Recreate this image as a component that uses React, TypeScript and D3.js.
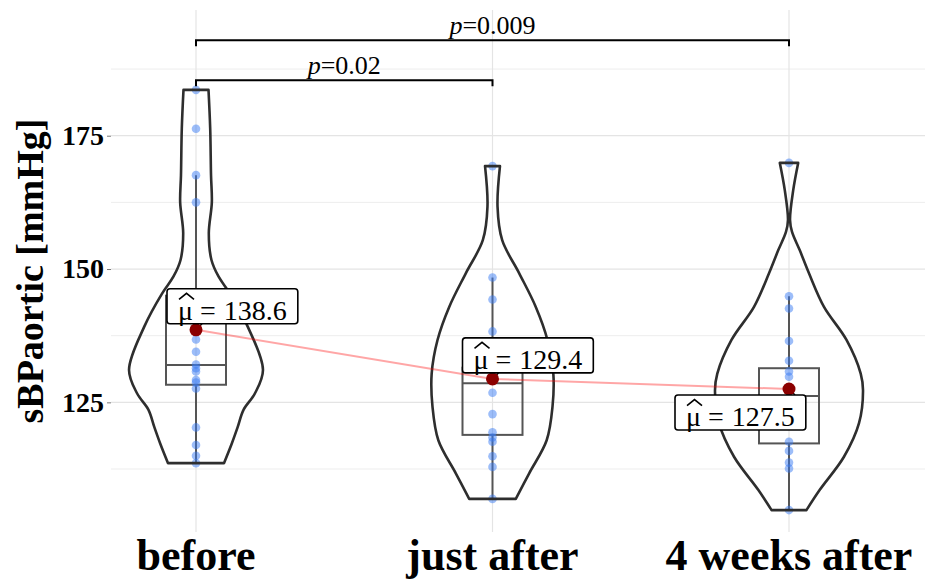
import { useEffect, useRef } from "react";
import * as d3 from "d3";

const GROUPS = ["before", "just after", "4 weeks after"];

// single subjects, sBP aortic (mmHg)
const POINTS_BEFORE = [183.6, 176.3, 167.6, 162.5, 136.8, 134.5, 132.1, 131.4, 130.8, 129.2, 128.7, 127.6, 120.3, 117.0, 115.0, 113.6];
const POINTS_JUST_AFTER = [169.3, 148.4, 144.3, 138.3, 126.8, 122.8, 119.4, 118.4, 117.6, 114.9, 112.9, 106.9];
const POINTS_4W_AFTER = [169.9, 144.9, 142.6, 136.5, 132.8, 130.8, 129.8, 117.6, 115.9, 113.7, 112.6, 104.8];

const MEANS = [138.6, 129.4, 127.5];
const Q1 = [128.3, 118.9, 117.3];
const MEDIAN = [132.0, 128.6, 126.2];
const Q3 = [145.0, 131.5, 131.4];
const WHISKER_LO = [113.6, 106.9, 104.8];
const WHISKER_HI = [167.6, 148.4, 144.9];

// violin outline: [sBP, relative density]
const VIOLIN_BEFORE: [number, number][] = [
  [183.6, 0.169], [176.3, 0.192], [167.6, 0.203], [162.5, 0.214], [156.7, 0.173], [151.7, 0.209],
  [148.6, 0.304], [145.4, 0.459], [139.2, 0.699], [131.1, 0.905], [126.7, 0.797], [123.6, 0.642],
  [120.4, 0.564], [117.3, 0.484], [113.6, 0.378],
];
const VIOLIN_JUST_AFTER: [number, number][] = [
  [169.3, 0.101], [161.7, 0.068], [155.4, 0.131], [149.2, 0.361], [142.9, 0.585], [136.7, 0.743],
  [130.4, 0.822], [124.2, 0.811], [117.9, 0.732], [111.7, 0.496], [106.9, 0.315],
];
const VIOLIN_4W_AFTER: [number, number][] = [
  [169.9, 0.124], [164.8, 0.057], [159.2, 0.014], [157.0, 0.04], [153.5, 0.146], [149.2, 0.27],
  [142.9, 0.473], [136.7, 0.777], [130.4, 0.969], [127.3, 1.0], [121.1, 0.946], [114.8, 0.743],
  [108.6, 0.416], [104.8, 0.236],
];

const Y_TICKS = [125, 150, 175];
const Y_MINOR = [112.5, 137.5, 162.5, 187.5];

const P_PAIRS: [number, number][] = [[0, 1], [0, 2]];
const P_VALUES = ["0.02", "0.009"];
const P_LEVELS = [185.4, 192.9];

const FONT = "'Liberation Serif', 'Times New Roman', serif";

export default function App() {
  const svgRef = useRef<SVGSVGElement>(null);

  useEffect(() => {
    if (!svgRef.current) return;
    const W = 925, H = 579;
    const panel = { left: 111, right: 925, top: 10, bottom: 532 };

    const svg = d3.select(svgRef.current);
    svg.selectAll("*").remove();
    svg.attr("width", W).attr("height", H);

    const x = d3.scalePoint<string>().domain(GROUPS).range([196, 789]);
    const y = d3.scaleLinear().domain([100.69, 198.57]).range([panel.bottom, panel.top]);
    const dens = d3.scaleLinear().domain([0, 1]).range([0, 74]);
    const boxHalf = 30;

    const points = [POINTS_BEFORE, POINTS_JUST_AFTER, POINTS_4W_AFTER];
    const violins = [VIOLIN_BEFORE, VIOLIN_JUST_AFTER, VIOLIN_4W_AFTER];

    // grid
    const grid = svg.append("g");
    Y_MINOR.forEach((v) => {
      grid.append("line").attr("x1", panel.left).attr("x2", panel.right)
        .attr("y1", y(v)).attr("y2", y(v)).attr("stroke", "#ededed").attr("stroke-width", 1);
    });
    Y_TICKS.forEach((v) => {
      grid.append("line").attr("x1", panel.left).attr("x2", panel.right)
        .attr("y1", y(v)).attr("y2", y(v)).attr("stroke", "#e4e4e4").attr("stroke-width", 1.2);
    });
    GROUPS.forEach((gName) => {
      grid.append("line").attr("x1", x(gName)!).attr("x2", x(gName)!)
        .attr("y1", panel.top).attr("y2", panel.bottom).attr("stroke", "#e4e4e4").attr("stroke-width", 1.2);
    });

    GROUPS.forEach((gName, i) => {
      const cx = x(gName)!;
      const g = svg.append("g");

      // box + whiskers
      g.append("line").attr("x1", cx).attr("x2", cx)
        .attr("y1", y(Q3[i])).attr("y2", y(WHISKER_HI[i]))
        .attr("stroke", "#555").attr("stroke-width", 2);
      g.append("line").attr("x1", cx).attr("x2", cx)
        .attr("y1", y(Q1[i])).attr("y2", y(WHISKER_LO[i]))
        .attr("stroke", "#555").attr("stroke-width", 2);
      g.append("rect")
        .attr("x", cx - boxHalf).attr("width", boxHalf * 2)
        .attr("y", y(Q3[i])).attr("height", y(Q1[i]) - y(Q3[i]))
        .attr("fill", "none").attr("stroke", "#555").attr("stroke-width", 2);
      g.append("line").attr("x1", cx - boxHalf).attr("x2", cx + boxHalf)
        .attr("y1", y(MEDIAN[i])).attr("y2", y(MEDIAN[i]))
        .attr("stroke", "#555").attr("stroke-width", 2);

      // dots
      g.selectAll("circle.pt").data(points[i]).join("circle")
        .attr("class", "pt")
        .attr("cx", cx).attr("cy", (d) => y(d)).attr("r", 4.3)
        .attr("fill", "#3a7cf3").attr("fill-opacity", 0.5);

      // violin
      const area = d3.area<[number, number]>()
        .y((d) => y(d[0]))
        .x0((d) => cx - dens(d[1]))
        .x1((d) => cx + dens(d[1]))
        .curve(d3.curveCatmullRom.alpha(0.5));
      g.append("path").datum(violins[i]).attr("d", area)
        .attr("fill", "none").attr("stroke", "#2e2e2e").attr("stroke-width", 2.6)
        .attr("stroke-linejoin", "round");
    });

    // mean path
    const meanLine = d3.line<number>().x((_, i) => x(GROUPS[i])!).y((d) => y(d));
    svg.append("path").datum(MEANS).attr("d", meanLine)
      .attr("fill", "none").attr("stroke", "#ff0000").attr("stroke-opacity", 0.35).attr("stroke-width", 2);

    // mean labels (repelled positions)
    const nudge = [{ dx: -29, dy: -41 }, { dx: -30, dy: -41 }, { dx: -114, dy: 6 }];
    const labelH = 35;
    const pad = 11;
    MEANS.forEach((mv, i) => {
      const mx = x(GROUPS[i])!;
      const my = y(mv);
      const left = mx + nudge[i].dx;
      const top = my + nudge[i].dy;
      const lg = svg.append("g");
      const rect = lg.append("rect").attr("x", left).attr("y", top).attr("height", labelH)
        .attr("rx", 3).attr("fill", "#fff").attr("stroke", "#000").attr("stroke-width", 1.6);

      const probe = svg.append("text").attr("font-family", FONT).attr("font-size", 28);
      const muW = (probe.text("\u03bc").node() as SVGTextElement).getComputedTextLength();
      const eqW = (probe.text("=").node() as SVGTextElement).getComputedTextLength();
      const numW = (probe.text(mv.toFixed(1)).node() as SVGTextElement).getComputedTextLength();
      probe.remove();

      const x0 = left + pad;
      const xEq = x0 + muW + 7;
      const xNum = xEq + eqW + 8;
      const txt = lg.append("text").attr("y", top + 31)
        .attr("font-family", FONT).attr("font-size", 28).attr("fill", "#000");
      txt.append("tspan").attr("x", x0).text("\u03bc");
      txt.append("tspan").attr("x", xEq).text("=");
      txt.append("tspan").attr("x", xNum).text(mv.toFixed(1));
      rect.attr("width", xNum + numW + pad - left);

      // wide hat over mu
      const hc = x0 + muW / 2 + 1;
      lg.append("path")
        .attr("d", `M${hc - 7.5},${top + 10.5}L${hc},${top + 4.5}L${hc + 7.5},${top + 10.5}`)
        .attr("fill", "none").attr("stroke", "#000").attr("stroke-width", 1.6);

      const edgeY = nudge[i].dy < 0 ? top + labelH : top;
      const edgeX = Math.max(left, Math.min(xNum + numW + pad, mx + 6));
      svg.append("line").attr("x1", mx).attr("y1", my).attr("x2", edgeX).attr("y2", edgeY)
        .attr("stroke", "#000").attr("stroke-width", 1.5);
      svg.append("circle").attr("cx", mx).attr("cy", my).attr("r", 6.5).attr("fill", "#8b0000");
      lg.raise();
    });

    // significance brackets
    P_PAIRS.forEach(([a, b], i) => {
      const x1 = x(GROUPS[a])!;
      const x2 = x(GROUPS[b])!;
      const by = y(P_LEVELS[i]);
      svg.append("path")
        .attr("d", `M${x1},${by + 6}V${by}H${x2}V${by + 6}`)
        .attr("fill", "none").attr("stroke", "#000").attr("stroke-width", 2);
      const t = svg.append("text").attr("x", (x1 + x2) / 2).attr("y", by - 6)
        .attr("text-anchor", "middle").attr("font-family", FONT).attr("font-size", 26).attr("fill", "#000");
      t.append("tspan").attr("font-style", "italic").text("p");
      t.append("tspan").text(`=${P_VALUES[i]}`);
    });

    // y axis
    const yAxis = svg.append("g").attr("transform", `translate(${panel.left},0)`)
      .call(d3.axisLeft(y).tickValues(Y_TICKS).tickSize(4).tickPadding(3).tickFormat(d3.format("d")));
    yAxis.select(".domain").remove();
    yAxis.selectAll("line").attr("stroke", "#777");
    yAxis.selectAll("text").attr("font-family", FONT).attr("font-size", 28)
      .attr("font-weight", 700).attr("fill", "#000");

    // x labels
    GROUPS.forEach((gName) => {
      svg.append("text").attr("x", x(gName)!).attr("y", 570)
        .attr("text-anchor", "middle").attr("font-family", FONT).attr("font-size", 44)
        .attr("font-weight", 700).attr("fill", "#000").text(gName);
    });

    // y title
    svg.append("text")
      .attr("transform", `translate(43,271) rotate(-90)`)
      .attr("text-anchor", "middle").attr("font-family", FONT).attr("font-size", 38)
      .attr("font-weight", 700).attr("fill", "#000").text("sBPaortic [mmHg]");
  }, []);

  return (
    <svg ref={svgRef} style={{ position: "absolute", left: 0, top: 0, background: "#fff", display: "block" }} />
  );
}
